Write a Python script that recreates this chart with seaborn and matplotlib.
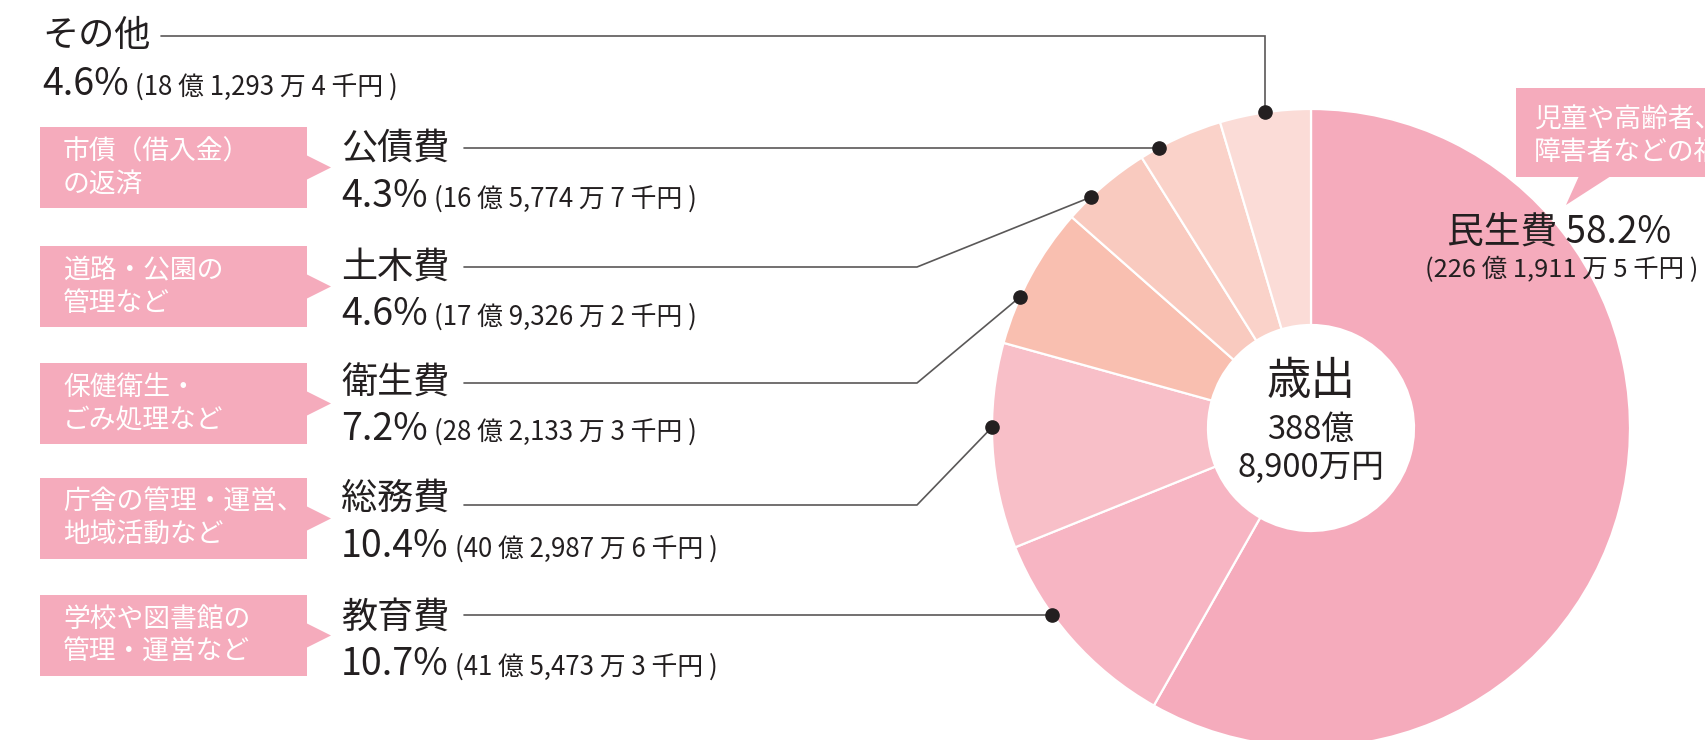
import matplotlib
matplotlib.use("Agg")
import matplotlib.pyplot as plt
from matplotlib.patches import Rectangle, Polygon
import numpy as np
import seaborn as sns

# ---------------- data ----------------
categories = ["民生費", "教育費", "総務費", "衛生費", "土木費", "公債費", "その他"]
shares = [58.2, 10.7, 10.4, 7.2, 4.6, 4.3, 4.6]
amounts = ["(226 億 1,911 万 5 千円 )", "(41 億 5,473 万 3 千円 )", "(40 億 2,987 万 6 千円 )",
           "(28 億 2,133 万 3 千円 )", "(17 億 9,326 万 2 千円 )", "(16 億 5,774 万 7 千円 )",
           "(18 億 1,293 万 4 千円 )"]
descriptions = [["児童や高齢者、", "障害者などの福祉"],
                ["学校や図書館の", "管理・運営など"],
                ["庁舎の管理・運営、", "地域活動など"],
                ["保健衛生・", "ごみ処理など"],
                ["道路・公園の", "管理など"],
                ["市債（借入金）", "の返済"],
                None]
total_lines = ["歳出", "388億", "8,900万円"]
colors = ["#F5ABBC", "#F7B5C3", "#F8BFC8", "#F9BFB0", "#F9CABF", "#FAD2C9", "#FBDCD7"]

# ---------------- layout (pixels, y down) ----------------
W, H = 1705, 740
CX, CY, R, HOLE = 1311, 428, 319, 103
label_cy = [None, 618, 499, 384, 268, 149, 36]
pct_base = [None, 675, 557, 440, 325, 207, 95]
box_top = [None, 595, 478, 363, 246, 127, None]
dot_frac = [None, 0.64, 0.59, 0.34, 0.30, 0.23, 0.5]
elbow = [None, False, True, True, True, False, False]
TEXT = "#231F20"
LINE = "#5A5858"
BOXC = "#F5ABBC"

sns.set_theme(style="white")
plt.rcParams['font.family'] = ['Noto Sans CJK JP', 'DejaVu Sans']

fig = plt.figure(figsize=(W / 100, H / 100), dpi=100)
ax = fig.add_axes([0, 0, 1, 1])

wedges, _ = ax.pie(shares, colors=colors, startangle=-90, counterclock=True,
                   radius=R, center=(CX, CY),
                   wedgeprops=dict(width=R - HOLE, edgecolor="white", linewidth=1.6))
ax.set_xlim(0, W)
ax.set_ylim(H, 0)
ax.set_aspect("equal")
ax.axis("off")

renderer = fig.canvas.get_renderer()

def right_edge_px(t):
    bb = t.get_window_extent(renderer=renderer)
    return ax.transData.inverted().transform((bb.x1, bb.y0))[0]

# center text
ax.text(CX, 381, total_lines[0], ha="center", va="center", fontsize=32, color=TEXT)
ax.text(CX, 430, total_lines[1], ha="center", va="center", fontsize=23.5, color=TEXT)
ax.text(CX, 468, total_lines[2], ha="center", va="center", fontsize=23.5, color=TEXT)

# left side rows
for i in range(1, len(categories)):
    x0 = 341 if box_top[i] is not None else 42
    ax.text(x0, label_cy[i], categories[i], ha="left", va="center", fontsize=26, color=TEXT)
    pt = ax.text(x0, pct_base[i], f"{shares[i]}%", ha="left", va="baseline",
                 fontsize=27, color=TEXT)
    xend = right_edge_px(pt)
    ax.text(xend + 6, pct_base[i], amounts[i], ha="left", va="baseline",
            fontsize=18.6, color=TEXT)

    w = wedges[i]
    th = np.deg2rad(w.theta1 + dot_frac[i] * (w.theta2 - w.theta1))
    dx, dy = CX + R * np.cos(th), CY + R * np.sin(th)

    if box_top[i] is None:
        ax.plot([161, dx, dx], [label_cy[i], label_cy[i], dy], color=LINE, lw=1.2,
                solid_joinstyle="miter")
    elif elbow[i]:
        ly = label_cy[i] + (6 if i == 2 else -1)
        ax.plot([464, 917, dx], [ly, ly, dy], color=LINE, lw=1.2)
    else:
        ax.plot([464, dx], [dy, dy], color=LINE, lw=1.2)
    ax.plot([dx], [dy], marker="o", ms=9.5, color=TEXT, mec=TEXT)

    if box_top[i] is not None:
        top = box_top[i]
        ax.add_patch(Rectangle((40, top), 267, 81, facecolor=BOXC, edgecolor="none"))
        c = top + 40.5
        ax.add_patch(Polygon([(306, c - 12.5), (331, c), (306, c + 12.5)],
                             closed=True, facecolor=BOXC, edgecolor="none"))
        ax.text(63, c - 16, descriptions[i][0], ha="left", va="center",
                fontsize=19.3, color="white")
        ax.text(63, c + 17, descriptions[i][1], ha="left", va="center",
                fontsize=19.3, color="white")

# 民生費 label and callout
ax.text(1559, 232, f"{categories[0]} {shares[0]}%", ha="center", va="center",
        fontsize=26.5, color=TEXT)
ax.text(1562, 270, amounts[0], ha="center", va="center", fontsize=18.3, color=TEXT)
ax.add_patch(Rectangle((1516, 88), 300, 89, facecolor=BOXC, edgecolor="none"))
ax.add_patch(Polygon([(1579, 176), (1611, 176), (1566, 205)], closed=True,
                     facecolor=BOXC, edgecolor="none"))
ax.text(1534, 119, descriptions[0][0], ha="left", va="center", fontsize=19.3, color="white")
ax.text(1534, 152, descriptions[0][1], ha="left", va="center", fontsize=19.3, color="white")

fig.savefig("out.png", dpi=100, facecolor="white")
